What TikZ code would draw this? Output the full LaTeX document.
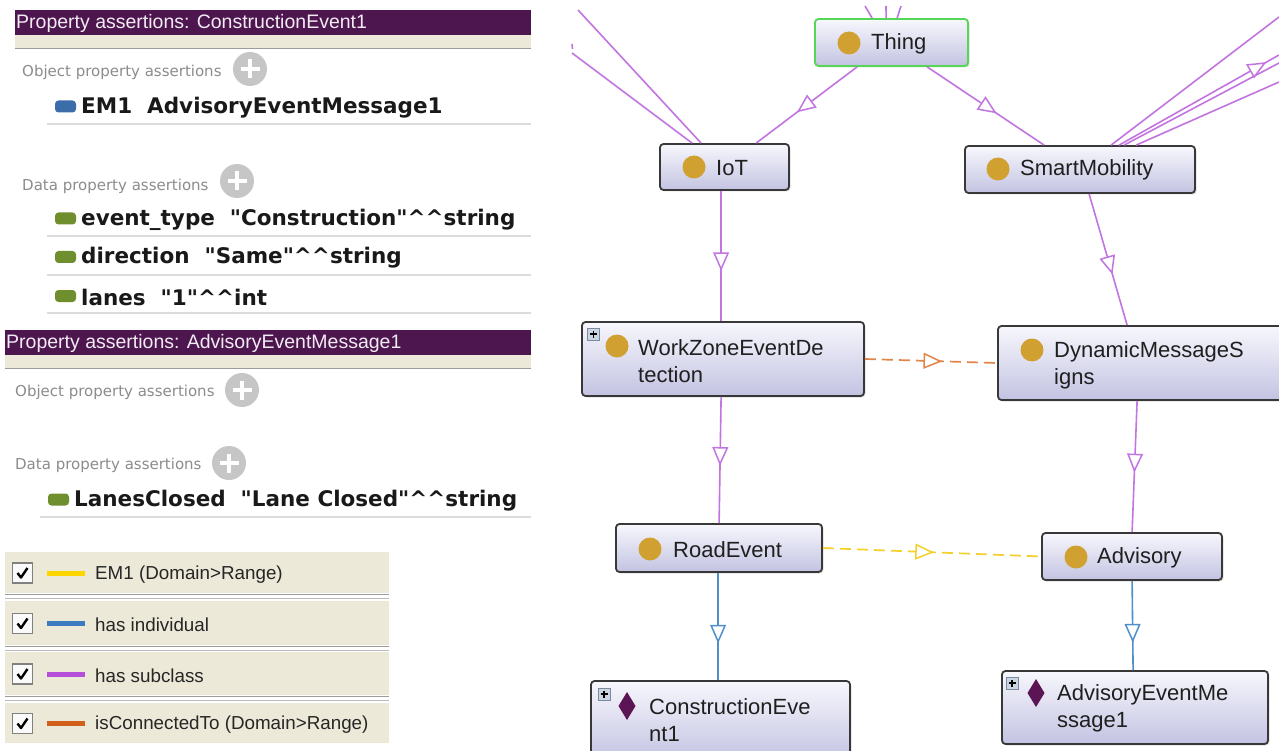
\documentclass[tikz,border=0pt]{standalone}
\usepackage{fontspec}
\setmainfont{Liberation Sans}
\newfontfamily\dejavu{DejaVu Sans}
\usetikzlibrary{arrows.meta,decorations.markings,shadows}
\definecolor{hdr}{HTML}{4D164F}
\definecolor{hdrtxt}{HTML}{F2ECF2}
\definecolor{beige}{HTML}{ECE9D8}
\definecolor{sepgray}{HTML}{9C9C9C}
\definecolor{rowline}{HTML}{DCDCDC}
\definecolor{graytxt}{HTML}{8C8C8C}
\definecolor{plusgray}{HTML}{C6C6C6}
\definecolor{chipblue}{HTML}{3B6EA8}
\definecolor{chipgreen}{HTML}{6F8F2E}
\definecolor{gold}{HTML}{D0A030}
\definecolor{diam}{HTML}{5B1555}
\definecolor{nborder}{HTML}{383838}
\definecolor{ntop}{HTML}{F7F7FD}
\definecolor{nbot}{HTML}{C3C3E2}
\definecolor{tgreen}{HTML}{55D655}
\definecolor{subc}{HTML}{C274E0}
\definecolor{indiv}{HTML}{4F8FCB}
\definecolor{conn}{HTML}{E0844A}
\definecolor{emone}{HTML}{F5CF2A}
\definecolor{lgyellow}{HTML}{FFD500}
\definecolor{lgblue}{HTML}{3D7BC0}
\definecolor{lgpurple}{HTML}{B54ED9}
\definecolor{lgorange}{HTML}{D0601C}
\definecolor{pbox}{HTML}{CBD6E2}
\definecolor{pboxb}{HTML}{7A8AA0}
\begin{document}
\begin{tikzpicture}[x=1pt,y=-1pt,
  cls/.style 2 args={draw=nborder, line width=1.8pt, rounded corners=3.5pt,
     top color=ntop, bottom color=nbot, minimum width=#1, minimum height=#2,
     inner sep=0pt, drop shadow={opacity=0.25, shadow xshift=1.5pt, shadow yshift=-1.5pt}},
  lbl/.style={anchor=west, inner sep=0pt, align=left, text=black!88,
     font=\fontsize{22}{27}\selectfont},
  ico/.style={circle, fill=gold, inner sep=0pt, minimum size=23pt},
  arrowat/.style={postaction={decorate, decoration={markings,
     mark=at position #1 with {\draw[solid, fill=white, line width=1.5pt, line join=miter]
        (0pt,0pt) -- (-16pt,7pt) -- (-16pt,-7pt) -- cycle;}}}},
  sub/.style={draw=subc, line width=1.6pt},
  ind/.style={draw=indiv, line width=1.6pt},
  cnx/.style={draw=conn, line width=1.7pt, dash pattern=on 11pt off 6pt},
  emx/.style={draw=emone, line width=1.7pt, dash pattern=on 11pt off 6pt},
  hdrtext/.style={anchor=west, inner sep=0pt, text=hdrtxt, font=\fontsize{19.5}{22}\selectfont},
  gtext/.style={anchor=west, inner sep=0pt, text=graytxt, font=\dejavu\fontsize{15}{18}\selectfont},
  btext/.style={anchor=west, inner sep=0pt, text=black!90, font=\dejavu\bfseries\fontsize{21.5}{25}\selectfont},
  chip/.style={rectangle, rounded corners=3.5pt, minimum width=21pt, minimum height=12pt, inner sep=0pt},
  pluscirc/.style={circle, fill=plusgray, minimum size=34pt, inner sep=0pt},
  plusbox/.style={rectangle, draw=pboxb, fill=pbox, line width=0.8pt, minimum size=12pt, inner sep=0pt},
  cbox/.style={rectangle, draw=gray, fill=white!96!gray, line width=1.4pt, minimum size=20pt, inner sep=0pt},
  lgtext/.style={anchor=west, inner sep=0pt, text=black!85, font=\fontsize{18.8}{21}\selectfont}
]
\useasboundingbox (0,0) rectangle (1279,751);
\clip (0,0) rectangle (1279,751);
\fill[white] (0,0) rectangle (1279,751);

% ---------------- Panel 1 ----------------
\fill[hdr] (15,10) rectangle (531,35);
\fill[beige] (15,35) rectangle (531,48);
\draw[sepgray, line width=1.5pt] (15,48.5) -- (531,48.5);
\node[hdrtext] (h1) at (16,23) {Property assertions: ConstructionEvent1};
\node[gtext] (op1) at (22,72.5) {Object property assertions};
\node[pluscirc] (pl1) at (250,69) {};
\draw[white, line width=3.8pt] (240.5,69) -- (259.5,69) (250,59.5) -- (250,78.5);
\node[chip, fill=chipblue] (ch1) at (65.5,106.5) {};
\node[btext] (r1) at (81,107.5) {EM1\ \ AdvisoryEventMessage1};
\draw[rowline, line width=2pt] (47,124) -- (531,124);
\node[gtext] (dp1) at (22,186.5) {Data property assertions};
\node[pluscirc] (pl2) at (237,181) {};
\draw[white, line width=3.8pt] (227.5,181) -- (246.5,181) (237,171.5) -- (237,190.5);
\node[chip, fill=chipgreen] (ch2) at (65.5,218.5) {};
\node[btext] (r2) at (81,219.5) {event\_type\ \ "Construction"\textasciicircum\textasciicircum string};
\draw[rowline, line width=2pt] (47,236) -- (531,236);
\node[chip, fill=chipgreen] (ch3) at (65.5,257) {};
\node[btext] (r3) at (81,258) {direction\ \ "Same"\textasciicircum\textasciicircum string};
\draw[rowline, line width=2pt] (47,275) -- (531,275);
\node[chip, fill=chipgreen] (ch4) at (65.5,296) {};
\node[btext] (r4) at (81,297) {lanes\ \ "1"\textasciicircum\textasciicircum int};
\draw[rowline, line width=2pt] (47,313) -- (531,313);

% ---------------- Panel 2 ----------------
\fill[hdr] (5,330) rectangle (531,355);
\fill[beige] (5,355) rectangle (531,368);
\draw[sepgray, line width=1.5pt] (5,368.5) -- (531,368.5);
\node[hdrtext] (h2) at (6,343) {Property assertions: AdvisoryEventMessage1};
\node[gtext] (op2) at (15,392.5) {Object property assertions};
\node[pluscirc] (pl3) at (242,390) {};
\draw[white, line width=3.8pt] (232.5,390) -- (251.5,390) (242,380.5) -- (242,399.5);
\node[gtext] (dp2) at (15,465.5) {Data property assertions};
\node[pluscirc] (pl4) at (229,463) {};
\draw[white, line width=3.8pt] (219.5,463) -- (238.5,463) (229,453.5) -- (229,472.5);
\node[chip, fill=chipgreen] (ch5) at (58.5,499.5) {};
\node[btext] (r5) at (74,500.5) {LanesClosed\ \ "Lane Closed"\textasciicircum\textasciicircum string};
\draw[rowline, line width=2pt] (40,517) -- (531,517);

% ---------------- Legend ----------------
\foreach \i/\top/\bot/\col/\txt in {1/552/593/lgyellow/{EM1 (Domain>Range)},
    2/601/645/lgblue/{has individual},
    3/652/695/lgpurple/{has subclass},
    4/703/743/lgorange/{isConnectedTo (Domain>Range)}}{
  \fill[beige] (5,\top) rectangle (389,\bot);
  \pgfmathsetmacro{\c}{(\top+\bot)/2+0.5}
  \node[cbox] (cb\i) at (22.5,\c) {};
  \draw[black, line width=2.4pt, line join=round] (17.5,\c) -- (21,\c+4.5) -- (27.5,\c-5);
  \draw[\col, line width=5pt] (47,\c) -- (85,\c);
  \node[lgtext] (lg\i) at (95,\c+1.5) {\txt};
}
\foreach \y in {593,645,695}{
  \draw[sepgray, line width=1.3pt] (5,\y+1.5) -- (389,\y+1.5);
  \draw[sepgray!70, line width=1.3pt] (5,\y+5.5) -- (389,\y+5.5);
}

% ---------------- Graph nodes ----------------
\node[cls={153pt}{47pt}, draw=tgreen] (thing) at (891.5,42.5) {};
\node[cls={129pt}{46pt}] (iot) at (724.5,167) {};
\node[cls={230pt}{47pt}] (sm) at (1080,169.5) {};
\node[cls={282pt}{74pt}] (wz) at (723,359) {};
\node[cls={290pt}{74pt}] (dms) at (1143,363) {};
\node[cls={206pt}{48pt}] (re) at (719,548) {};
\node[cls={180pt}{47pt}] (adv) at (1132,556.5) {};
\node[cls={259pt}{80pt}] (ce) at (720.5,721) {};
\node[cls={266pt}{73pt}] (aem) at (1135,707.5) {};

% icons and labels
\node[ico] (thing-i) at (849,43) {};
\node[lbl] (thing-t) at (871,44) {Thing};
\node[ico] (iot-i) at (694,167) {};
\node[lbl] (iot-t) at (716,168) {IoT};
\node[ico] (sm-i) at (998,169) {};
\node[lbl] (sm-t) at (1020,170) {SmartMobility};
\node[ico] (wz-i) at (617,346) {};
\node[lbl] (wz-t) at (638,361) {WorkZoneEventDe\\tection};
\node[ico] (dms-i) at (1032,350) {};
\node[lbl] (dms-t) at (1054,365) {DynamicMessageS\\igns};
\node[ico] (re-i) at (650,549) {};
\node[lbl] (re-t) at (673,550) {RoadEvent};
\node[ico] (adv-i) at (1076,557) {};
\node[lbl] (adv-t) at (1097,558) {Advisory};
\node[lbl] (ce-t) at (649,720) {ConstructionEve\\nt1};
\node[lbl] (aem-t) at (1057,708) {AdvisoryEventMe\\ssage1};
\fill[diam] (627,692) -- (635.5,706) -- (627,720) -- (618.5,706) -- cycle;
\fill[diam] (1036,679) -- (1044.5,693) -- (1036,707) -- (1027.5,693) -- cycle;

% plus boxes
\node[plusbox] (wz-p) at (593.5,334) {};
\draw[black, line width=1.1pt] (590,334) -- (597,334) (593.5,330.5) -- (593.5,337.5);
\node[plusbox] (ce-p) at (604,694) {};
\draw[black, line width=1.1pt] (600.5,694) -- (607.5,694) (604,690.5) -- (604,697.5);
\node[plusbox] (aem-p) at (1012,683) {};
\draw[black, line width=1.1pt] (1008.5,683) -- (1015.5,683) (1012,679.5) -- (1012,686.5);

% ---------------- Edges ----------------
\draw[sub, arrowat=0.58] ([xshift=43pt]thing.south west) -- ([xshift=97pt]iot.north west);
\draw[sub, arrowat=0.58] ([xshift=113pt]thing.south west) -- ([xshift=80pt]sm.north west);
\draw[sub, arrowat=0.6] ([xshift=62pt]iot.south west) -- ([xshift=140pt]wz.north west);
\draw[sub, arrowat=0.6] ([xshift=125pt]sm.south west) -- ([xshift=130pt]dms.north west);
\draw[cnx, arrowat=0.57] (wz.east) -- (dms.west);
\draw[sub, arrowat=0.53] ([xshift=140pt]wz.south west) -- ([xshift=104pt]re.north west);
\draw[sub, arrowat=0.53] ([xshift=140pt]dms.south west) -- ([xshift=91pt]adv.north west);
\draw[emx, arrowat=0.5] (re.east) -- (adv.west);
\draw[ind, arrowat=0.64] ([xshift=103pt]re.south west) -- ([xshift=128pt]ce.north west);
\draw[ind, arrowat=0.67] ([xshift=91pt]adv.south west) -- ([xshift=132pt]aem.north west);

% free-ended subclass lines leaving the view
\coordinate (ul1) at (578,10);
\coordinate (ul2) at (572,53);
\coordinate (ur1) at (1279,17);
\coordinate (ur2) at (1279,55);
\coordinate (ur3) at (1279,63);
\coordinate (ur4) at (1279,82);
\coordinate (tt1) at (865,6);
\coordinate (tt2) at (886,6);
\coordinate (tt3) at (901,6);
\draw[sub] ([xshift=42pt]iot.north west) -- (ul1);
\draw[sub] ([xshift=33pt]iot.north west) -- (ul2);
\draw[sub] (572,44) -- (572.5,49);
\draw[sub] ([xshift=147pt]sm.north west) -- (ur1);
\draw[sub, arrowat=0.91] ([xshift=155pt]sm.north west) -- (ur2);
\draw[sub] ([xshift=160pt]sm.north west) -- (ur3);
\draw[sub] ([xshift=172pt]sm.north west) -- (ur4);
\draw[sub] (tt1) -- ([xshift=58pt]thing.north west);
\draw[sub] (tt2) -- ([xshift=72pt]thing.north west);
\draw[sub] (tt3) -- ([xshift=83pt]thing.north west);
\end{tikzpicture}
\end{document}
